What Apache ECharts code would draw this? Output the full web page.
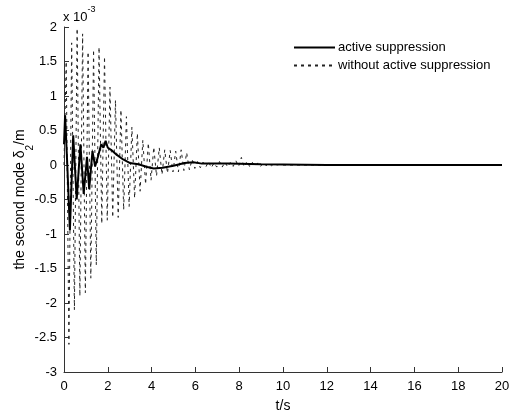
<!DOCTYPE html>
<html>
<head>
<meta charset="utf-8">
<script src="https://cdn.jsdelivr.net/npm/echarts@6/dist/echarts.min.js"></script>
<style>html,body{margin:0;padding:0;background:#fff;}#c{width:509px;height:413px;}</style>
</head>
<body>
<div id="c"></div>
<script>
// values in units of 1e-3 m
var seriesNames = ['active suppression', 'without active suppression'];
var xTicks = [0, 2, 4, 6, 8, 10, 12, 14, 16, 18, 20];
var yTicks = [-3, -2.5, -2, -1.5, -1, -0.5, 0, 0.5, 1, 1.5, 2];

var activeData = [
  [0.00, 0.30], [0.05, 0.72], [0.15, 0.00], [0.27, -0.95], [0.42, 0.43],
  [0.58, -0.50], [0.75, 0.30], [0.90, -0.42], [1.05, 0.12], [1.15, -0.35],
  [1.30, 0.20], [1.42, -0.02], [1.55, 0.12], [1.70, 0.30], [1.80, 0.25],
  [1.90, 0.35], [2.00, 0.25], [2.15, 0.22], [2.40, 0.15], [2.70, 0.08],
  [3.00, 0.03], [3.40, 0.01], [3.80, -0.03], [4.10, -0.05], [4.50, -0.04],
  [5.00, -0.01], [5.50, 0.03], [5.90, 0.04], [6.30, 0.02], [7.50, 0.02],
  [9.00, 0.01], [12.00, 0.00], [20.00, 0.00]
];

var passiveData = [
  [0.000, 0.00], [0.100, 1.50], [0.225, -2.60], [0.350, 1.77], [0.475, -2.10],
  [0.600, 1.98], [0.725, -1.90], [0.850, 1.90], [0.975, -1.85], [1.100, 1.64],
  [1.225, -1.64], [1.350, 1.67], [1.475, -1.45], [1.600, 1.71], [1.725, -0.85],
  [1.850, 1.57], [1.975, -0.80], [2.100, 1.13], [2.225, -0.76], [2.350, 0.94],
  [2.475, -0.76], [2.600, 0.80], [2.725, -0.65], [2.850, 0.70], [2.975, -0.60],
  [3.100, 0.55], [3.225, -0.48], [3.350, 0.46], [3.475, -0.38], [3.600, 0.36],
  [3.725, -0.28], [3.850, 0.32], [3.975, -0.22], [4.100, 0.26], [4.225, -0.16],
  [4.350, 0.25], [4.475, -0.14], [4.600, 0.22], [4.725, -0.12], [4.850, 0.21],
  [4.975, -0.10], [5.100, 0.20], [5.225, -0.10], [5.350, 0.22], [5.475, -0.08],
  [5.600, 0.18], [5.725, -0.07], [5.850, 0.08], [5.975, -0.05], [6.100, 0.05],
  [6.225, -0.04], [6.350, 0.04], [6.475, -0.03], [6.600, 0.05], [6.725, -0.04],
  [6.850, 0.03], [6.975, -0.03], [7.100, 0.05], [7.225, -0.03], [7.350, 0.04],
  [7.475, -0.03], [7.600, 0.04], [7.725, -0.02], [7.850, 0.06], [7.975, -0.02],
  [8.100, 0.11], [8.225, -0.03], [8.350, 0.05], [8.475, -0.02], [8.600, 0.04],
  [8.725, -0.02], [8.850, 0.03], [8.975, -0.02], [9.100, 0.03], [9.225, -0.01],
  [9.350, 0.02], [9.475, -0.01], [9.600, 0.02], [9.725, 0.00], [9.850, 0.01],
  [10.000, 0.00], [20.000, 0.00]
];

var chart = echarts.init(document.getElementById('c'));
var font = 'Liberation Sans, Arial, sans-serif';
chart.setOption({
  animation: false,
  backgroundColor: '#fff',
  grid: { left: 64, right: 7, top: 27, bottom: 41, containLabel: false, outerBoundsMode: 'none' },
  legend: {
    data: seriesNames,
    orient: 'vertical',
    left: 288, top: 36,
    itemWidth: 41, itemHeight: 10, itemGap: 5,
    itemStyle: { opacity: 0 },
    textStyle: { fontFamily: font, fontSize: 13, color: '#000', padding: [0, 0, 0, -2] }
  },
  graphic: [{
    type: 'text', left: 63, top: 5,
    style: {
      text: '{a|x 10}{b|-3}',
      rich: {
        a: { fontFamily: font, fontSize: 13, color: '#000', verticalAlign: 'bottom', padding: [6, 0, 0, 0] },
        b: { fontFamily: font, fontSize: 9, color: '#000', verticalAlign: 'top' }
      }
    }
  }],
  xAxis: {
    type: 'value', min: 0, max: 20, interval: 2,
    name: 't/s', nameLocation: 'middle', nameGap: 27, nameMoveOverlap: false,
    nameTextStyle: { fontFamily: font, fontSize: 14, color: '#000' },
    axisLine: { show: true, onZero: false, lineStyle: { color: '#333', width: 1 } },
    axisTick: { show: true, inside: true, length: 5, lineStyle: { color: '#333' } },
    axisLabel: { fontFamily: font, fontSize: 13, color: '#000', margin: 8,
      formatter: function (v) { return xTicks.indexOf(v) >= 0 ? String(v) : ''; } },
    splitLine: { show: false }
  },
  yAxis: {
    type: 'value', min: -3, max: 2, interval: 0.5,
    name: '{n|the second mode }{d|δ}{s|2}{n|/m}', nameLocation: 'middle', nameGap: 37, nameRotate: 90,
    nameMoveOverlap: false,
    nameTextStyle: {
      rich: {
        n: { fontFamily: font, fontSize: 14, color: '#000' },
        d: { fontFamily: font, fontSize: 14, color: '#000' },
        s: { fontFamily: font, fontSize: 10, color: '#000', verticalAlign: 'bottom', padding: [0, 0, -8, 0] }
      }
    },
    axisLine: { show: true, onZero: false, lineStyle: { color: '#333', width: 1 } },
    axisTick: { show: true, inside: true, length: 5, lineStyle: { color: '#333' } },
    axisLabel: { fontFamily: font, fontSize: 13, color: '#000', margin: 7,
      formatter: function (v) { return yTicks.indexOf(v) >= 0 ? String(v) : ''; } },
    splitLine: { show: false }
  },
  series: [
    {
      name: seriesNames[1], type: 'line', data: passiveData,
      symbol: 'none', smooth: false, z: 2,
      lineStyle: { color: '#222', width: 1, type: [3, 4] },
      itemStyle: { color: '#222' }
    },
    {
      name: seriesNames[0], type: 'line', data: activeData,
      symbol: 'none', smooth: false, z: 3,
      lineStyle: { color: '#000', width: 2 },
      itemStyle: { color: '#000' }
    }
  ]
});
</script>
</body>
</html>
